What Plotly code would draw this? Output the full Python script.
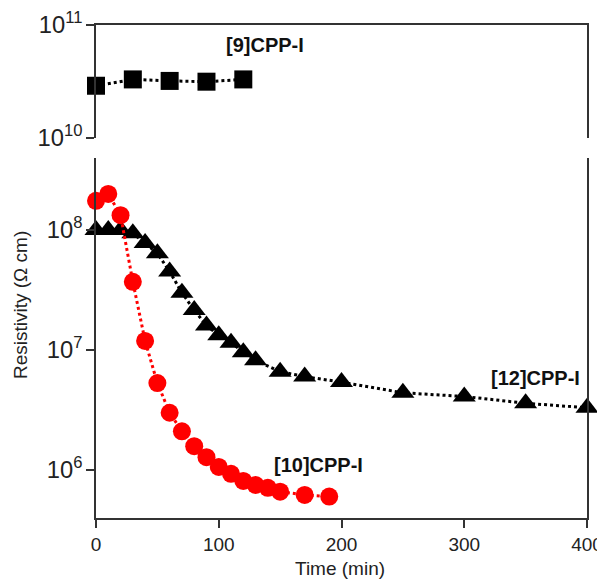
import plotly.graph_objects as go

# [9]CPP-I (top panel)
t9 = [0, 30, 60, 90, 120]
r9 = [2.9e10, 3.3e10, 3.2e10, 3.15e10, 3.3e10]

# [10]CPP-I
t10 = [0, 10, 20, 30, 40, 50, 60, 70, 80, 90, 100, 110, 120, 130, 140, 150, 170, 190]
r10 = [1.75e8, 2.0e8, 1.33e8, 3.7e7, 1.19e7, 5.3e6, 3.0e6, 2.1e6, 1.58e6, 1.28e6,
       1.06e6, 9.3e5, 8.1e5, 7.5e5, 7.1e5, 6.6e5, 6.2e5, 6.0e5]

# [12]CPP-I
t12 = [0, 10, 20, 30, 40, 50, 60, 70, 80, 90, 100, 110, 120, 130, 150, 170, 200, 250, 300, 350, 400]
r12 = [1.0e8, 1.0e8, 1.0e8, 9.4e7, 7.8e7, 6.4e7, 4.5e7, 3.0e7, 2.15e7, 1.6e7, 1.33e7,
       1.15e7, 9.6e6, 8.2e6, 6.6e6, 6.0e6, 5.4e6, 4.4e6, 4.1e6, 3.6e6, 3.3e6]

x_ticks = [0, 100, 200, 300, 400]

fig = go.Figure()

fig.add_trace(go.Scatter(
    x=t12, y=r12, mode="lines+markers", xaxis="x", yaxis="y",
    line=dict(color="black", width=3, dash="dot"),
    marker=dict(symbol="triangle-up", size=20, color="black"),
    cliponaxis=False, showlegend=False))

fig.add_trace(go.Scatter(
    x=t10, y=r10, mode="lines+markers", xaxis="x", yaxis="y",
    line=dict(color="#ff0000", width=3, dash="dot"),
    marker=dict(symbol="circle", size=18, color="#ff0000"),
    cliponaxis=False, showlegend=False))

fig.add_trace(go.Scatter(
    x=t9, y=r9, mode="lines+markers", xaxis="x2", yaxis="y2",
    line=dict(color="black", width=3, dash="dot"),
    marker=dict(symbol="square", size=18, color="black"),
    cliponaxis=False, showlegend=False))

axcol = "#333333"
tickfont = dict(family="Liberation Sans, Arial, sans-serif", size=19, color="#222222")

H = 493.0
fig.update_layout(
    width=605, height=579,
    margin=dict(l=88, r=26, t=17, b=69, autoexpand=False),
    paper_bgcolor="white", plot_bgcolor="white",
    xaxis=dict(range=[0, 400], tickvals=x_ticks, ticks="outside", ticklen=8,
               tickwidth=1.5, tickcolor=axcol, showline=True, linecolor=axcol,
               linewidth=1.5, showgrid=False, zeroline=False, tickfont=tickfont,
               anchor="y", automargin=False),
    yaxis=dict(type="log", range=[5.6, 8.6], domain=[0, 360 / H], dtick=1,
               exponentformat="power", ticks="outside", ticklen=8, tickwidth=1.5,
               tickcolor=axcol, showline=True, mirror=True, linecolor=axcol,
               linewidth=1.5, showgrid=False, zeroline=False, tickfont=tickfont,
               anchor="x", automargin=False),
    xaxis2=dict(range=[0, 400], matches="x", side="top", anchor="y2",
                showticklabels=False, ticks="", showline=True, linecolor=axcol,
                linewidth=1.5, showgrid=False, zeroline=False, automargin=False),
    yaxis2=dict(type="log", range=[10, 11], domain=[(518 - 138) / H, 1], dtick=1,
                exponentformat="power", ticks="outside", ticklen=8, tickwidth=1.5,
                tickcolor=axcol, showline=True, mirror=True, linecolor=axcol,
                linewidth=1.5, showgrid=False, zeroline=False, tickfont=tickfont,
                anchor="x2", automargin=False),
)


def px(xp):
    return (xp - 96) / (587 - 96)


def py(yp):
    return (518 - yp) / H


labfont = dict(family="Liberation Sans, Arial, sans-serif", size=20, color="#111111")
labels = [("<b>[9]CPP-I</b>", 265, 45),
          ("<b>[12]CPP-I</b>", 535, 378),
          ("<b>[10]CPP-I</b>", 318, 465)]
for txt, xp, yp in labels:
    fig.add_annotation(x=px(xp), y=py(yp), xref="paper", yref="paper", text=txt,
                       xanchor="center", yanchor="middle",
                       showarrow=False, font=labfont)

titlefont = dict(family="Liberation Sans, Arial, sans-serif", size=19, color="#222222")
fig.add_annotation(x=px(340), y=py(568), xref="paper", yref="paper", text="Time (min)",
                   xanchor="center", yanchor="middle",
                   showarrow=False, font=titlefont)
fig.add_annotation(x=px(20), y=py(305), xref="paper", yref="paper",
                   text="Resistivity (Ω cm)", textangle=-90, showarrow=False,
                   xanchor="center", yanchor="middle", font=titlefont)

fig.write_html("out.html")
